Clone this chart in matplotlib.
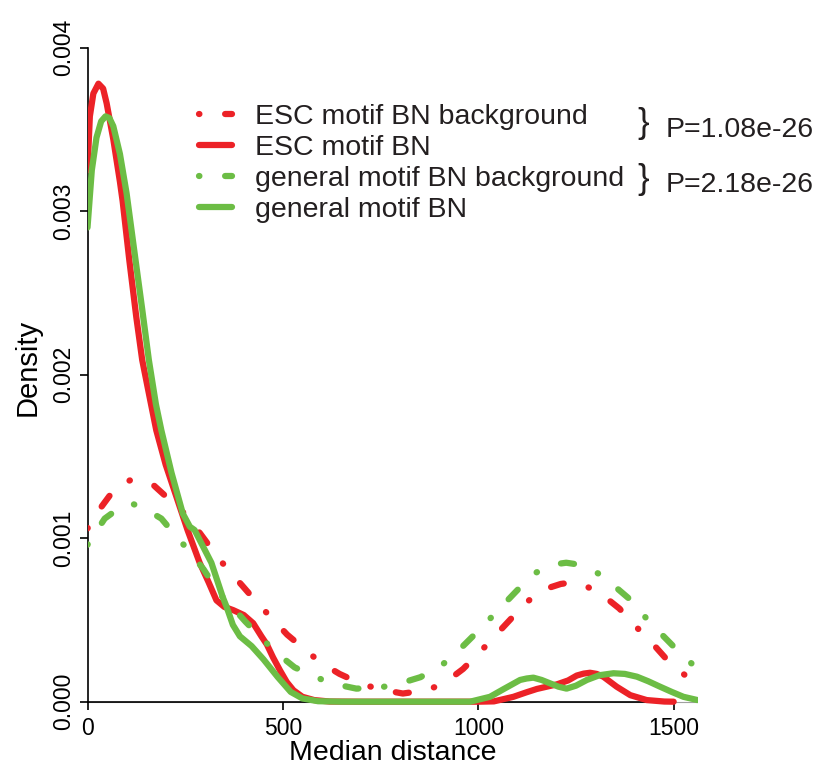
import matplotlib
matplotlib.use("Agg")
import matplotlib.pyplot as plt
from matplotlib.transforms import Affine2D

# ---- density estimates (median distance vs. density) ----
esc_bg_x = [0, 35, 69, 95, 115, 140, 171, 217, 244, 288, 325, 355, 396, 436,
            468, 511, 556, 596, 645, 700, 747, 807, 867, 911, 961, 1003, 1038,
            1077, 1120, 1155, 1185, 1211, 1240, 1273, 1314, 1361, 1403, 1437,
            1478, 1525, 1561]
esc_bg_y = [0.00106, 0.00119, 0.00130, 0.00134, 0.00136, 0.00135, 0.00132,
            0.00122, 0.00116, 0.00103, 0.00091, 0.00082, 0.00071, 0.00060,
            0.00052, 0.00041, 0.00032, 0.00024, 0.00017, 0.00011, 0.000076,
            0.00005, 0.00007, 0.00011, 0.00020, 0.00030, 0.00039, 0.00049,
            0.00060, 0.00067, 0.00070, 0.00072, 0.00073, 0.00071, 0.00066,
            0.00057, 0.00046, 0.00038, 0.00027, 0.00017, 0.00010]

esc_bn_x = [0, 6, 15, 28, 40, 49, 66, 83, 90, 107, 125, 140, 160, 176, 200,
            228, 256, 287, 310, 330, 350, 373, 400, 424, 445, 459, 475, 493,
            510, 527, 550, 580, 620, 700, 900, 1000, 1040, 1090, 1124, 1150,
            1201, 1230, 1252, 1270, 1286, 1303, 1320, 1354, 1389, 1431, 1476,
            1500]
esc_bn_y = [0.00325, 0.00358, 0.00372, 0.00378, 0.00375, 0.00366, 0.00344,
            0.00318, 0.00306, 0.00270, 0.00235, 0.00209, 0.00185, 0.00166,
            0.00145, 0.00125, 0.00105, 0.00085, 0.00073, 0.00062, 0.00058,
            0.00056, 0.00053, 0.00048, 0.00040, 0.00035, 0.00027, 0.00019,
            0.00012, 0.00007, 0.00003, 0.00001, 0.000001, 0.0, 0.0, 0.0,
            0.000002, 0.00003, 0.000058, 0.000078, 0.000106, 0.00013,
            0.00016, 0.000172, 0.000177, 0.00017, 0.000153, 0.000092,
            0.00004, 0.00001, 0.000001, 0.0]

gen_bg_x = [0, 44, 90, 115, 140, 189, 231, 261, 297, 338, 363, 404, 449, 483,
            530, 584, 628, 688, 747, 797, 852, 905, 944, 986, 1027, 1063, 1103,
            1148, 1195, 1225, 1253, 1280, 1310, 1347, 1391, 1430, 1466, 1507,
            1561]
gen_bg_y = [0.00096, 0.00112, 0.00120, 0.00121, 0.00119, 0.00112, 0.00100,
            0.00092, 0.00081, 0.00066, 0.00060, 0.00049, 0.00038, 0.00030,
            0.00021, 0.00015, 0.00011, 0.00008, 0.000086, 0.00011, 0.00015,
            0.00022, 0.00030, 0.00040, 0.00050, 0.00059, 0.00069, 0.00079,
            0.00084, 0.00085, 0.00084, 0.00082, 0.00078, 0.00071, 0.00062,
            0.00051, 0.00042, 0.00032, 0.00020]

gen_bn_x = [0, 11, 23, 35, 46, 56, 66, 83, 100, 123, 140, 157, 175, 189, 215,
            244, 262, 274, 317, 346, 356, 372, 390, 420, 450, 487, 520, 550,
            590, 650, 900, 979, 1030, 1064, 1107, 1124, 1141, 1162, 1184, 1205,
            1226, 1250, 1278, 1310, 1346, 1375, 1406, 1435, 1465, 1495, 1525,
            1561]
gen_bn_y = [0.00290, 0.00325, 0.00345, 0.00355, 0.00358, 0.00357, 0.00352,
            0.00335, 0.00311, 0.00270, 0.00240, 0.00209, 0.00182, 0.00166,
            0.00140, 0.00115, 0.00107, 0.00105, 0.00085, 0.00064, 0.00058,
            0.00047, 0.00040, 0.00034, 0.00026, 0.00015, 0.00006, 0.00002,
            0.000003, 0.0, 0.0, 0.0, 0.00003, 0.000076, 0.000133, 0.000142,
            0.000147, 0.000133, 0.000112, 0.000092, 0.00008, 0.000098,
            0.000133, 0.000162, 0.000174, 0.00017, 0.000153, 0.000125,
            0.000092, 0.00006, 0.00003, 0.00001]

series_labels = ["ESC motif BN background", "ESC motif BN",
                 "general motif BN background", "general motif BN"]
p_values = ["P=1.08e-26", "P=2.18e-26"]
x_ticks = [0, 500, 1000, 1500]
x_tick_labels = ["0", "500", "1000", "1500"]
y_ticks = [0.000, 0.001, 0.002, 0.003, 0.004]
y_tick_labels = ["0.000", "0.001", "0.002", "0.003", "0.004"]

# ---- style ----
plt.rcParams["font.family"] = ["Liberation Sans", "DejaVu Sans"]
plt.rcParams["lines.scale_dashes"] = False
RED = "#EC2227"
GREEN = "#6CBD45"
TEXT = "#231F20"
LW = 4.5
DOTDASH = (0, (0.3, 18.5, 9.5, 18.5))

W, H = 823, 765
fig = plt.figure(figsize=(W / 100, H / 100), dpi=100)
# transform for layout positions given in pixels from the top-left corner
pix = Affine2D().scale(1.0 / W, -1.0 / H).translate(0, 1) + fig.transFigure

xlim = (0, 1561)
ylim = (-0.00016, 0.00416)
px_per_y = 163.5 / 0.001
left_px, right_px = 87.5, 697.5
zero_px = 701.7
bottom_px = zero_px - ylim[0] * px_per_y
top_px = zero_px - ylim[1] * px_per_y
ax = fig.add_axes([left_px / W, 1 - bottom_px / H,
                   (right_px - left_px) / W, (bottom_px - top_px) / H])
ax.set_xlim(*xlim)
ax.set_ylim(*ylim)

ax.axhline(0, color="#a0a0a0", lw=0.8, zorder=1)

common = dict(lw=LW, solid_capstyle="round", dash_capstyle="round",
              solid_joinstyle="round", dash_joinstyle="round", zorder=3)
ax.plot(esc_bg_x, esc_bg_y, color=RED, linestyle=DOTDASH,
        label=series_labels[0], **common)
ax.plot(esc_bn_x, esc_bn_y, color=RED, linestyle="-",
        label=series_labels[1], **common)
ax.plot(gen_bg_x, gen_bg_y, color=GREEN, linestyle=DOTDASH,
        label=series_labels[2], **common)
ax.plot(gen_bn_x, gen_bn_y, color=GREEN, linestyle="-",
        label=series_labels[3], **common)

# axes: open frame, ticks outward
for s in ("top", "right"):
    ax.spines[s].set_visible(False)
ax.spines["left"].set_bounds(0, 0.004)
ax.spines["bottom"].set_position(("data", 0))
ax.spines["bottom"].set_bounds(0, 1500)
for s in ("left", "bottom"):
    ax.spines[s].set_linewidth(1.2)
    ax.spines[s].set_color("black")

ax.set_xticks(x_ticks)
ax.set_xticklabels(x_tick_labels)
ax.set_yticks(y_ticks)
ax.set_yticklabels(y_tick_labels)
ax.tick_params(direction="out", length=5.8, width=1.2, labelsize=16.5,
               colors="black")
ax.tick_params(axis="x", pad=5)
ax.tick_params(axis="y", pad=2.9)
plt.setp(ax.get_yticklabels(), rotation=90, va="center")

ax.set_xlabel("Median distance", fontsize=20.5, color="black")
ax.set_ylabel("Density", fontsize=21, color="black")
ax.xaxis.set_label_coords(392.5, 740.5, transform=pix)
ax.yaxis.set_label_coords(42, 367, transform=pix)

leg_fs = 20.5
fs_px = leg_fs * 100 / 72
ax.legend(loc="upper left", bbox_to_anchor=(199, 103.5), bbox_transform=pix,
          frameon=False, fontsize=leg_fs, handlelength=33 / fs_px,
          handletextpad=23 / fs_px, labelspacing=0.18, borderpad=0,
          borderaxespad=0, labelcolor=TEXT)

# significance annotations between paired curves
for brace_y, base_y, txt in zip((124, 180), (136.7, 191.7), p_values):
    fig.text(643.5, brace_y, "}", transform=pix, fontsize=25,
             ha="center", va="center", color=TEXT)
    fig.text(666, base_y, txt, transform=pix, fontsize=20.5,
             ha="left", va="baseline", color=TEXT)

fig.savefig("out.png", dpi=100)
